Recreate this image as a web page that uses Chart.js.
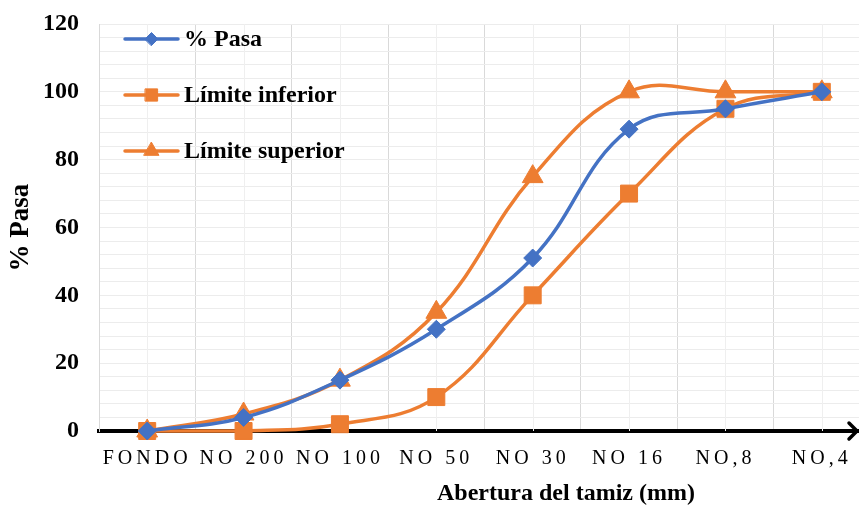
<!DOCTYPE html>
<html>
<head>
<meta charset="utf-8">
<script src="https://cdn.jsdelivr.net/npm/chart.js@4"></script>
<style>
  html, body { margin: 0; padding: 0; background: #fff; overflow: hidden; }
  #wrap { width: 871px; height: 506px; }
</style>
</head>
<body>
<div id="wrap"><canvas id="myLineChart" width="871" height="506"></canvas></div>
<script>
const categories = ["FONDO", "NO 200", "NO 100", "NO 50", "NO 30", "NO 16", "NO,8", "NO,4"];
const pasa = [0, 4, 15, 30, 51, 89, 95, 100];
const limiteInferior = [0, 0, 2, 10, 40, 70, 95, 100];
const limiteSuperior = [0, 5, 15, 35, 75, 100, 100, 100];
const yTicks = [0, 20, 40, 60, 80, 100, 120];

const BLUE = "#4472C4";
const ORANGE = "#ED7D31";
const VIEW_W = 859; // visible page width, plot runs past it
const PLOT_RIGHT = 870; // where the (cropped) plot area ends

function spaced(scale, px) {
  // wide character spacing on the category labels, only while this scale draws them
  if (scale._spaced) return;
  scale._spaced = true;
  const orig = scale.drawLabels;
  scale.drawLabels = function (area) {
    const ctx = this.ctx;
    ctx.save();
    ctx.letterSpacing = px;
    orig.call(this, area);
    ctx.restore();
    ctx.letterSpacing = "0px";
  };
}

const decorPlugin = {
  id: "decor",
  beforeDatasetsDraw(chart) {
    // light minor lines through each category centre
    const { ctx, chartArea, scales } = chart;
    ctx.save();
    ctx.strokeStyle = "#efefef";
    ctx.lineWidth = 1;
    categories.forEach((c, i) => {
      const x = Math.round(scales.x.getPixelForValue(i)) + 0.5;
      ctx.beginPath();
      ctx.moveTo(x, chartArea.top);
      ctx.lineTo(x, chartArea.bottom);
      ctx.stroke();
    });
    ctx.restore();
  },
  afterDraw(chart) {
    const { ctx, chartArea } = chart;
    const y0 = chart.scales.y.getPixelForValue(0);

    // arrow head on the x axis
    ctx.save();
    ctx.strokeStyle = "#000";
    ctx.lineWidth = 3.5;
    ctx.lineCap = "round";
    ctx.beginPath();
    ctx.moveTo(VIEW_W - 10, y0 - 8);
    ctx.lineTo(VIEW_W - 2, y0);
    ctx.lineTo(VIEW_W - 10, y0 + 8);
    ctx.stroke();
    ctx.restore();

    // legend inside the plot, top-left
    const rows = [39, 95, 151];
    ctx.save();
    chart.data.datasets.forEach((ds, i) => {
      const y = rows[i];
      const x1 = chartArea.left + 26;
      const x2 = chartArea.left + 79;
      ctx.strokeStyle = ds.borderColor;
      ctx.lineWidth = 3.5;
      ctx.lineCap = "round";
      ctx.beginPath();
      ctx.moveTo(x1, y);
      ctx.lineTo(x2, y);
      ctx.stroke();
      ctx.fillStyle = ds.pointBackgroundColor;
      ctx.strokeStyle = ds.pointBorderColor;
      ctx.lineWidth = 1;
      Chart.helpers.drawPoint(
        ctx,
        { pointStyle: ds.pointStyle, radius: ds.pointRadius * 0.72, rotation: 0, borderWidth: 1 },
        (x1 + x2) / 2,
        y
      );
      ctx.fillStyle = "#000";
      ctx.font = "bold 24px 'Liberation Serif'";
      ctx.textAlign = "left";
      ctx.textBaseline = "middle";
      ctx.fillText(ds.label, x2 + 6, y + 1);
    });

    // axis titles
    ctx.font = "bold 24px 'Liberation Serif'";
    ctx.textAlign = "center";
    ctx.fillText("Abertura del tamiz (mm)", 566, 494);
    ctx.translate(21, (chartArea.top + chartArea.bottom) / 2);
    ctx.rotate(-Math.PI / 2);
    ctx.font = "bold 27px 'Liberation Serif'";
    ctx.fillText("% Pasa", 0, 0);
    ctx.restore();
  },
};

function series(label, data, color, style, radius) {
  return {
    label,
    data,
    borderColor: color,
    backgroundColor: color,
    pointBackgroundColor: color,
    pointBorderColor: color,
    pointBorderWidth: 1,
    pointStyle: style,
    pointRadius: radius,
    pointHoverRadius: radius,
    borderWidth: 3.5,
    tension: 0.4,
    clip: false,
  };
}

function buildChart(width) {
  const canvas = document.getElementById("myLineChart");
  document.getElementById("wrap").style.width = width + "px";
  canvas.width = width;
  canvas.height = 506;
  canvas.style.width = width + "px";
  canvas.style.height = "506px";
  return new Chart(canvas.getContext("2d"), {
    type: "line",
    data: {
      labels: categories,
      datasets: [
        series("% Pasa", pasa, BLUE, "rectRot", 9),
        series("Límite inferior", limiteInferior, ORANGE, "rect", 12),
        series("Límite superior", limiteSuperior, ORANGE, "triangle", 12),
      ],
    },
    options: {
      responsive: false,
      animation: false,
      events: [],
      layout: { padding: { top: 24, right: 1, left: 0, bottom: 0 } },
      plugins: {
        legend: { display: false },
        tooltip: { enabled: false },
      },
      scales: {
        x: {
          offset: true,
          grid: { offset: true, color: "#d9d9d9", drawTicks: false },
          border: { color: "#000", width: 4 },
          ticks: {
            autoSkip: false,
            maxRotation: 0,
            padding: 16,
            color: "#000",
            font: { family: "'Liberation Serif'", size: 20 },
          },
          afterFit(scale) {
            scale.height = 75;
            scale.paddingLeft = 0;
            scale.paddingRight = 0;
            spaced(scale, "4px");
          },
        },
        y: {
          min: 0,
          max: 120,
          grid: { color: "#ececec", drawTicks: false },
          border: { color: "#d9d9d9", width: 1 },
          ticks: {
            stepSize: 4,
            autoSkip: false,
            padding: 20,
            color: "#000",
            font: { family: "'Liberation Serif'", size: 24, weight: "bold" },
            callback: (v) => (yTicks.includes(v) ? v : ""),
          },
          afterFit(scale) {
            scale.width = 99;
            scale.paddingTop = 0;
            scale.paddingBottom = 0;
          },
        },
      },
    },
    plugins: [decorPlugin],
  });
}

document.addEventListener("DOMContentLoaded", () => {
  // the plot runs past the page edge; widen the canvas until its area ends at PLOT_RIGHT
  let width = 871;
  let chart = buildChart(width);
  for (let i = 0; i < 3; i++) {
    const diff = Math.round(PLOT_RIGHT - chart.chartArea.right);
    if (!diff) break;
    chart.destroy();
    width += diff;
    chart = buildChart(width);
  }
});
</script>
</body>
</html>
